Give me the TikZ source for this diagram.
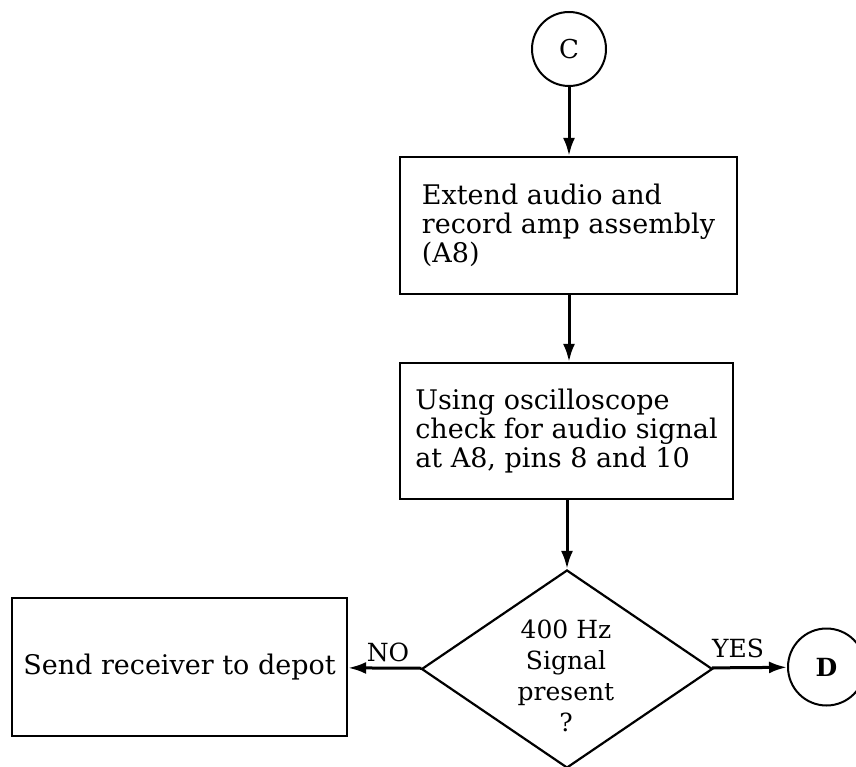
\documentclass[tikz,border=0pt]{standalone}
\usepackage{fontspec}
\setmainfont{DejaVu Serif}
\usetikzlibrary{shapes.geometric,arrows.meta}
\begin{document}
\begin{tikzpicture}[x=1pt,y=-1pt,
  txt/.style={font=\fontsize{27}{29}\selectfont},
  procbox/.style={draw, line width=2.2pt, align=left, inner sep=0pt, txt},
  conn/.style={draw, circle, line width=2pt, inner sep=0pt, font=\fontsize{26}{29}\selectfont},
  decide/.style={draw, diamond, line width=2.2pt, inner sep=0pt, aspect=1.47, minimum width=291pt, minimum height=198pt},
  flow/.style={line width=3pt, -{Latex[length=18pt,width=12pt]}},
  lbl/.style={inner sep=0pt, font=\fontsize{25}{29}\selectfont}]
\useasboundingbox (0,0) rectangle (856,767);
\node[conn, minimum size=74pt] (c) at (569,49) {C};
\node[procbox, minimum width=337pt, minimum height=137pt] (b1) at (568.5,225.5) {Extend audio and\\record amp assembly\\(A8)};
\node[procbox, minimum width=333pt, minimum height=136pt] (b2) at (566.5,431) {Using oscilloscope\\check for audio signal\\at A8, pins 8 and 10};
\node[decide] (q) at (567,669) {};
\node[align=center, inner sep=0pt, font=\fontsize{25}{31}\selectfont] (qt) at (566,676) {400 Hz\\Signal\\present\\?};
\node[procbox, minimum width=335pt, minimum height=138pt] (dep) at (179.5,667) {Send receiver to depot};
\node[conn, minimum size=77pt, font=\bfseries\fontsize{25}{29}\selectfont] (d) at (826.5,667) {D};
\draw[flow] (c) -- (b1.north -| c);
\draw[flow] (b1.south -| c) -- (b2.north -| c);
\draw[flow] (b2.south -| q) -- (q);
\draw[flow] (q) -- (dep);
\draw[flow] (q) -- (d);
\node[lbl] (no) at (388,652) {NO};
\node[lbl] (yes) at (738,648) {YES};
\end{tikzpicture}
\end{document}
